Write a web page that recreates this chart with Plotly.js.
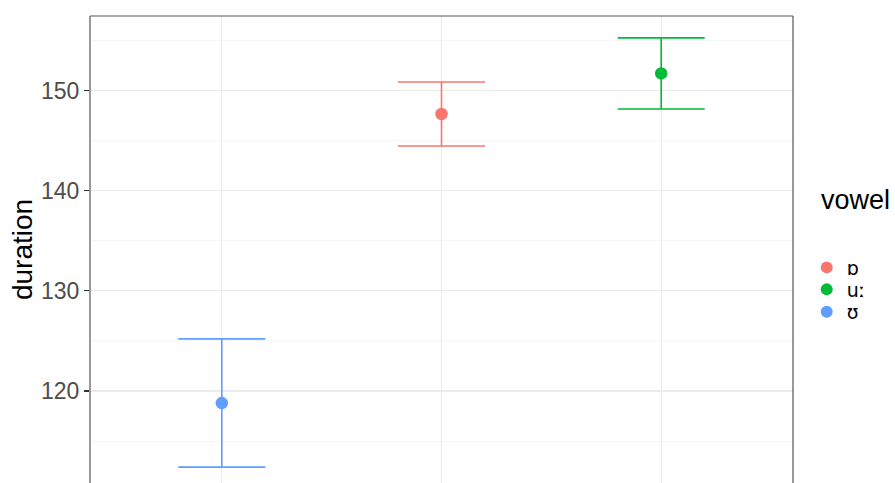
<!DOCTYPE html>
<html>
<head>
<meta charset="utf-8">
<script src="https://cdn.plot.ly/plotly-3.0.1.min.js"></script>
<style>
  html, body { margin: 0; padding: 0; overflow: hidden; background: #fff; }
  #chart { width: 895px; height: 483px; }
</style>
</head>
<body>
<div id="chart"></div>
<script>
// Mean vowel duration with error bars, one point per vowel
const vowels = ['ɒ', 'uː', 'ʊ'];
const axisOrder = ['ʊ', 'ɒ', 'uː'];
const meanDuration = [147.65, 151.7, 118.8];
const errHalf = [3.2, 3.55, 6.4];
const colours = ['#F8766D', '#00BA38', '#619CFF'];
const legendIds = ['legend', 'legend2', 'legend3'];
const legendRowY = [0.4614, 0.4143, 0.3664];

const font = 'Liberation Sans, Arial, DejaVu Sans, sans-serif';
const ipaFont = 'DejaVu Sans, Liberation Sans, sans-serif';

const traces = vowels.map((v, i) => ({
  type: 'scatter',
  mode: 'markers',
  name: v,
  legend: legendIds[i],
  x: [v],
  y: [meanDuration[i]],
  marker: { color: colours[i], size: 12.5 },
  error_y: {
    type: 'data',
    array: [errHalf[i]],
    visible: true,
    color: colours[i],
    thickness: 1.6,
    width: 43.5
  },
  hoverinfo: 'x+y'
}));

const legendBox = (y) => ({
  x: 1.0195,
  xanchor: 'left',
  y: y,
  yanchor: 'middle',
  font: { size: 19, color: '#000', family: ipaFont },
  itemsizing: 'constant',
  bgcolor: 'rgba(0,0,0,0)',
  borderwidth: 0
});

const layout = {
  width: 895,
  height: 483,
  margin: { l: 90, r: 102, t: 15.5, b: 0 },
  paper_bgcolor: '#ffffff',
  plot_bgcolor: '#ffffff',
  font: { family: font, color: '#000' },
  showlegend: true,
  xaxis: {
    type: 'category',
    categoryorder: 'array',
    categoryarray: axisOrder,
    range: [-0.6, 2.6],
    showgrid: true,
    gridcolor: '#ebebeb',
    gridwidth: 1.1,
    showticklabels: false,
    ticks: '',
    zeroline: false,
    showline: false,
    fixedrange: true
  },
  yaxis: {
    range: [110.82, 157.43],
    tickvals: [120, 130, 140, 150],
    ticktext: ['120', '130', '140', '150'],
    ticks: 'outside',
    ticklen: 5,
    tickwidth: 1.1,
    tickcolor: '#333333',
    tickfont: { size: 23, color: '#4d4d4d', family: font },
    showgrid: true,
    gridcolor: '#ebebeb',
    gridwidth: 1.1,
    minor: { tickvals: [115, 125, 135, 145, 155], showgrid: true, gridcolor: '#f0f0f0', gridwidth: 0.6, ticks: '' },
    zeroline: false,
    showline: false,
    title: { text: 'duration', font: { size: 28, color: '#000', family: font }, standoff: 0 },
    automargin: false,
    fixedrange: true
  },
  legend: legendBox(legendRowY[0]),
  legend2: legendBox(legendRowY[1]),
  legend3: legendBox(legendRowY[2]),
  annotations: [{
    text: 'vowel',
    xref: 'paper', yref: 'paper',
    x: 1.037, y: 0.6053,
    xanchor: 'left', yanchor: 'middle',
    showarrow: false,
    font: { size: 27, color: '#000', family: font }
  }],
  shapes: [
    { type: 'line', xref: 'paper', yref: 'paper', x0: 0, x1: 0, y0: -0.01, y1: 1, line: { color: '#555555', width: 1.2 } },
    { type: 'line', xref: 'paper', yref: 'paper', x0: 1, x1: 1, y0: -0.01, y1: 1, line: { color: '#555555', width: 1.2 } },
    { type: 'line', xref: 'paper', yref: 'paper', x0: 0, x1: 1, y0: 1, y1: 1, line: { color: '#555555', width: 1.2 } }
  ]
};

Plotly.newPlot('chart', traces, layout, { displayModeBar: false, staticPlot: true });
</script>
</body>
</html>
